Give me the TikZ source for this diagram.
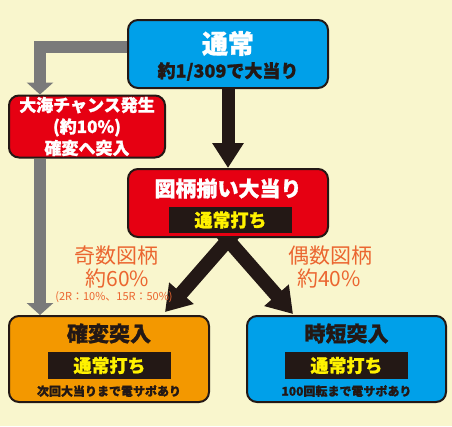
\documentclass[tikz,border=0pt]{standalone}
\usepackage{fontspec}
\setmainfont{Noto Sans CJK JP}[BoldFeatures={FakeBold=1.2}]
\usepackage{xcolor}
\usepackage{tikz}
\usetikzlibrary{positioning,calc,arrows.meta,backgrounds}

\definecolor{bgyellow}{HTML}{F9F6CD}
\definecolor{boxblue}{HTML}{00A0E9}
\definecolor{boxred}{HTML}{E60012}
\definecolor{boxorange}{HTML}{F39800}
\definecolor{inkblack}{HTML}{231815}
\definecolor{arrowgray}{HTML}{7A7A7A}
\definecolor{bandyellow}{HTML}{FFF100}
\definecolor{labelorange}{HTML}{EB6630}

\newcommand{\fsz}[1]{\fontsize{#1}{#1}\selectfont}

\tikzset{
  box/.style={draw=inkblack, line width=2pt, rounded corners=10pt, inner sep=0pt},
  band/.style={fill=inkblack, text=bandyellow, minimum width=123pt, minimum height=26pt, inner sep=0pt, font=\bfseries\fsz{18}},
  grayarrow/.style={draw=arrowgray, line width=12pt, -{Triangle[width=26pt,length=12pt]}},
  blackarrow/.style={draw=inkblack, line width=13pt, -{Triangle[width=30pt,length=25pt]}},
  splitarrow/.style={draw=inkblack, line width=14pt, shorten <=-14pt, -{Triangle[width=31pt,length=25pt]}},
  ratio/.style={text=labelorange, font=\fsz{21}, inner sep=0pt}
}

\begin{document}
\begin{tikzpicture}[x=1pt, y=-1pt]
    \useasboundingbox (0,0) rectangle (452,426);
    \begin{scope}[on background layer]
        \fill [bgyellow] (0,0) rectangle (452,426);
    \end{scope}

    % Boxes
    \node [box, fill=boxblue, minimum width=200pt, minimum height=68pt] (tsujo) at (228,54) {};
    \node [box, fill=boxred, minimum width=156pt, minimum height=62pt, text=white, align=center, font=\bfseries\fontsize{17}{21.5}\selectfont] (kaihen) at (87,126.5) {大海チャンス発生\\(約10\%)\\確変へ突入};
    \node [box, fill=boxred, minimum width=200pt, minimum height=68pt] (atari) at (228,203) {};
    \node [box, fill=boxorange, minimum width=200pt, minimum height=86pt] (kakuhen) at (109,359) {};
    \node [box, fill=boxblue, minimum width=199pt, minimum height=86pt] (jitan) at (346.5,359) {};

    % Box texts
    \node [text=white, font=\bfseries\fsz{26}, inner sep=0pt] (tsujotitle) at (228,43.5) {通常};
    \node [text=inkblack, font=\bfseries\fsz{18}, inner sep=0pt] (tsujoprob) at (228,71.5) {約1/309で大当り};
    \node [text=white, font=\bfseries\fsz{21}, inner sep=0pt] (atarititle) at (228,188.5) {図柄揃い大当り};
    \node [band] (atariband) at (230.5,220) {通常打ち};
    \node [text=inkblack, font=\bfseries\fsz{21}, inner sep=0pt] (kakuhentitle) at (109,333.5) {確変突入};
    \node [band, minimum height=27pt] (kakuhenband) at (109.5,365.5) {通常打ち};
    \node [text=inkblack, font=\bfseries\fsz{12}, inner sep=0pt] (kakuhennote) at (109,391) {次回大当りまで電サポあり};
    \node [text=inkblack, font=\bfseries\fsz{21}, inner sep=0pt] (jitantitle) at (346.5,333.5) {時短突入};
    \node [band, minimum height=27pt] (jitanband) at (346.5,365.5) {通常打ち};
    \node [text=inkblack, font=\bfseries\fsz{12}, inner sep=0pt] (jitannote) at (346.5,391) {100回転まで電サポあり};

    % Ratios
    \node [ratio] (oddname) at (116.5,256) {奇数図柄};
    \node [ratio] (oddrate) at (117.5,279) {約60\%};
    \node [ratio, font=\fsz{11}] (oddsplit) at (114,297.5) {(2R：10\%、15R：50\%)};
    \node [ratio] (evenname) at (330,256) {偶数図柄};
    \node [ratio] (evenrate) at (329,279) {約40\%};

    % Arrows
    \coordinate (graycol) at (40,0);
    \draw [grayarrow] ([yshift=7pt]tsujo.west) -| (kaihen.north -| graycol);
    \draw [grayarrow] (kaihen.south -| graycol) -- (kakuhen.north -| graycol);
    \draw [blackarrow] (tsujo.south) -- (atari.north);
    \begin{scope}[on background layer]
        \draw [splitarrow] ([yshift=-2pt]atari.south) -- ([xshift=-45pt,yshift=3pt]kakuhen.north east);
        \draw [splitarrow] ([yshift=-2pt]atari.south) -- ([xshift=47pt,yshift=1pt]jitan.north west);
    \end{scope}
\end{tikzpicture}
\end{document}
